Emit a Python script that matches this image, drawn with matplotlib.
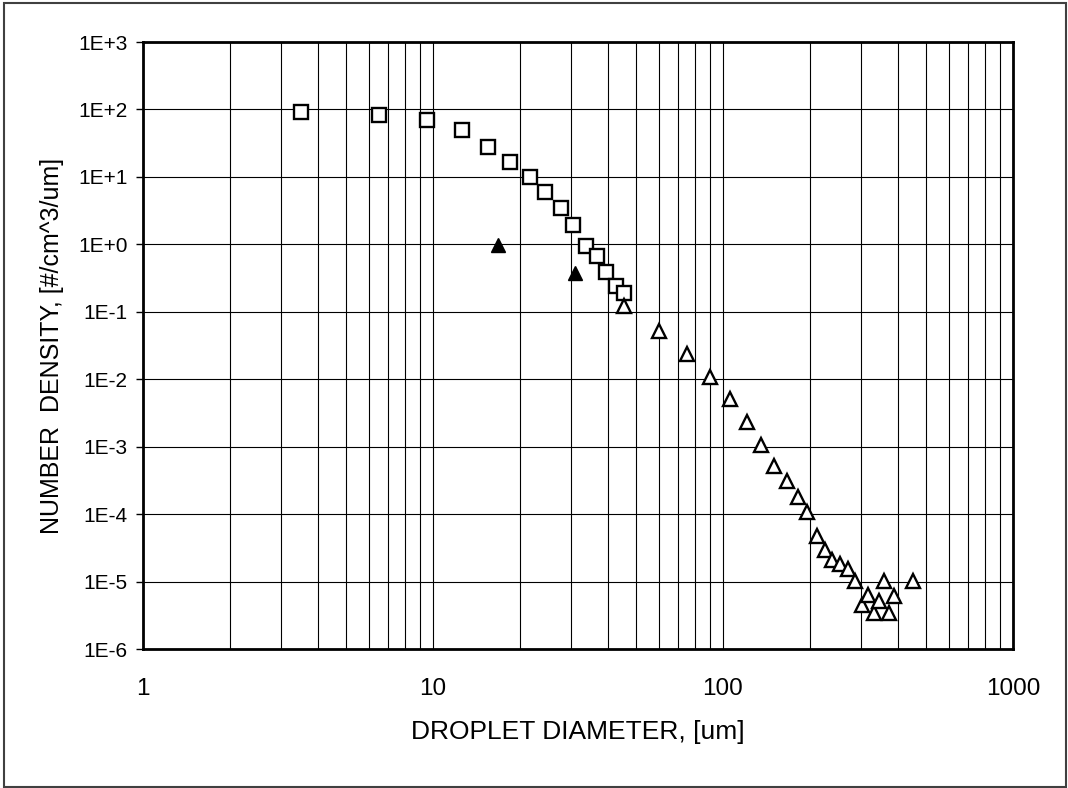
import matplotlib
matplotlib.use("Agg")
import matplotlib.pyplot as plt
from matplotlib.patches import Rectangle
from matplotlib.ticker import FixedLocator, NullFormatter, LogLocator

plt.rcParams['font.family'] = ['Liberation Sans', 'DejaVu Sans']

# Open squares
sq_x = [3.5, 6.5, 9.5, 12.6, 15.5, 18.5, 21.6, 24.4, 27.6, 30.5, 33.6, 36.7, 39.5, 42.8, 45.7]
sq_y = [92, 84, 70, 49, 28, 16.4, 10.0, 6.0, 3.5, 1.93, 0.95, 0.67, 0.39, 0.243, 0.187]

# Filled triangles
ft_x = [16.7, 31.0]
ft_y = [0.97, 0.38]

# Open triangles
ot_x = [45.6, 60.3, 74.9, 90.2, 105.7, 120.7, 135.3, 150.4, 165.8, 180.8, 195.3, 210.5,
        224.8, 238.3, 253, 269, 285, 300.6, 315.4, 331.6, 346, 360, 374.5, 389.6, 451]
ot_y = [0.121, 0.0515, 0.0235, 0.0108, 0.00516, 0.00233, 0.00107, 5.18e-4, 3.07e-4, 1.79e-4,
        1.07e-4, 4.73e-5, 2.97e-5, 2.06e-5, 1.8e-5, 1.52e-5, 1.02e-5, 4.54e-6, 6.24e-6, 3.41e-6,
        5.14e-6, 1.02e-5, 3.41e-6, 6.1e-6, 1.02e-5]

x_ticks = [1, 10, 100, 1000]
x_ticklabels = ['1', '10', '100', '1000']
y_ticks = [1e-6, 1e-5, 1e-4, 1e-3, 1e-2, 1e-1, 1e0, 1e1, 1e2, 1e3]
y_ticklabels = ['1E-6', '1E-5', '1E-4', '1E-3', '1E-2', '1E-1', '1E+0', '1E+1', '1E+2', '1E+3']

fig = plt.figure(figsize=(10.68, 7.88), dpi=100)
ax = fig.add_axes([143/1068, 1-649/788, (1013-143)/1068, (649-42)/788])

ax.set_xscale('log')
ax.set_yscale('log')
ax.set_xlim(1, 1000)
ax.set_ylim(1e-6, 1e3)

ax.plot(sq_x, sq_y, linestyle='none', marker='s', markersize=9.5, markerfacecolor='white',
        markeredgecolor='black', markeredgewidth=1.7, zorder=3)
ax.plot(ot_x, ot_y, linestyle='none', marker='^', markersize=10, markerfacecolor='white',
        markeredgecolor='black', markeredgewidth=1.7, zorder=4)
ax.plot(ft_x, ft_y, linestyle='none', marker='^', markersize=10.5, markerfacecolor='black',
        markeredgecolor='black', markeredgewidth=1.0, zorder=4)

ax.xaxis.set_major_locator(FixedLocator(x_ticks))
ax.set_xticklabels(x_ticklabels, fontsize=17.5)
ax.xaxis.set_minor_locator(LogLocator(base=10, subs=range(2, 10)))
ax.xaxis.set_minor_formatter(NullFormatter())
ax.yaxis.set_major_locator(FixedLocator(y_ticks))
ax.set_yticklabels(y_ticklabels, fontsize=15)
ax.yaxis.set_minor_locator(FixedLocator([]))

ax.tick_params(axis='x', which='both', length=0, pad=21)
ax.tick_params(axis='y', which='major', length=5, width=1, direction='out', pad=6)

ax.grid(True, which='major', axis='both', color='black', linewidth=0.8)
ax.grid(True, which='minor', axis='x', color='black', linewidth=0.8)
ax.set_axisbelow(True)

for s in ax.spines.values():
    s.set_linewidth(2)
    s.set_color('black')

ax.set_xlabel('DROPLET DIAMETER, [um]', fontsize=19, labelpad=14)
ax.set_ylabel('NUMBER  DENSITY, [#/cm^3/um]', fontsize=18, labelpad=10)

fig.patches.append(Rectangle((4/1068, 1/788), 1-6/1068, 1-4/788, transform=fig.transFigure,
                             fill=False, edgecolor='#404040', linewidth=1.5))

fig.savefig('out.png', dpi=100)
